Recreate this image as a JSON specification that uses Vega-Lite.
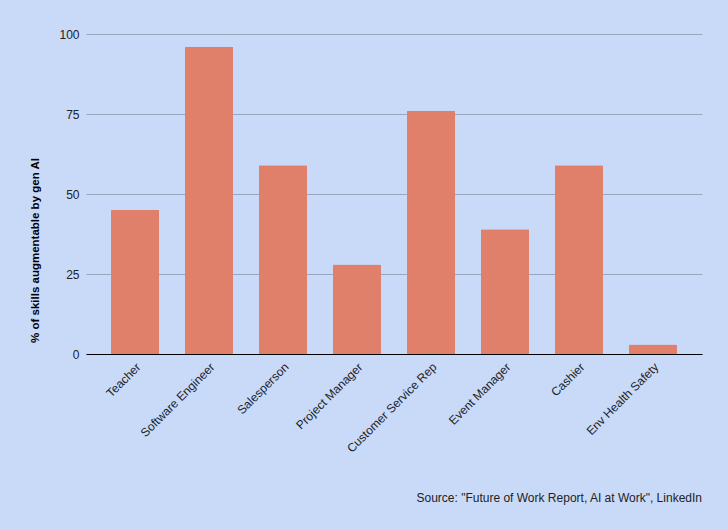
{
  "$schema": "https://vega.github.io/schema/vega-lite/v6.json",
  "width": 616,
  "height": 320,
  "autosize": {"type": "none"},
  "padding": {"left": 86, "top": 34, "right": 26, "bottom": 176},
  "background": "#c9daf8",
  "title": {
    "text": "Source: \"Future of Work Report, AI at Work\", LinkedIn",
    "orient": "bottom",
    "anchor": "end",
    "font": "Liberation Sans",
    "fontSize": 12,
    "fontWeight": "normal",
    "color": "#222222",
    "offset": 39
  },
  "data": {
    "values": [
      {"role": "Teacher", "pct": 45},
      {"role": "Software Engineer", "pct": 96},
      {"role": "Salesperson", "pct": 59},
      {"role": "Project Manager", "pct": 28},
      {"role": "Customer Service Rep", "pct": 76},
      {"role": "Event Manager", "pct": 39},
      {"role": "Cashier", "pct": 59},
      {"role": "Env Health Safety", "pct": 3}
    ]
  },
  "mark": {"type": "bar", "color": "#e0806b", "cornerRadiusTopLeft": 1, "cornerRadiusTopRight": 1},
  "encoding": {
    "x": {
      "field": "role",
      "type": "nominal",
      "sort": null,
      "scale": {"paddingInner": 0.35, "paddingOuter": 0.338},
      "axis": {
        "title": null,
        "labelAngle": -45,
        "labelFont": "Liberation Sans",
        "labelFontSize": 12,
        "labelColor": "#222222",
        "ticks": false,
        "labelPadding": 7,
        "domainColor": "#000000",
        "domainWidth": 1,
        "grid": false
      }
    },
    "y": {
      "field": "pct",
      "type": "quantitative",
      "scale": {"domain": [0, 100], "nice": false},
      "axis": {
        "title": "% of skills augmentable by gen AI",
        "titleFont": "Liberation Sans",
        "titleFontSize": 11.5,
        "titleFontWeight": "bold",
        "titleColor": "#000000",
        "titleX": -46,
        "titleY": 216,
        "values": [0, 25, 50, 75, 100],
        "labelFont": "Liberation Sans",
        "labelFontSize": 12,
        "labelColor": "#222222",
        "labelPadding": 7,
        "ticks": false,
        "domain": false,
        "gridColor": "#9aa6bd",
        "gridWidth": 1
      }
    }
  },
  "config": {
    "view": {"stroke": null}
  }
}
